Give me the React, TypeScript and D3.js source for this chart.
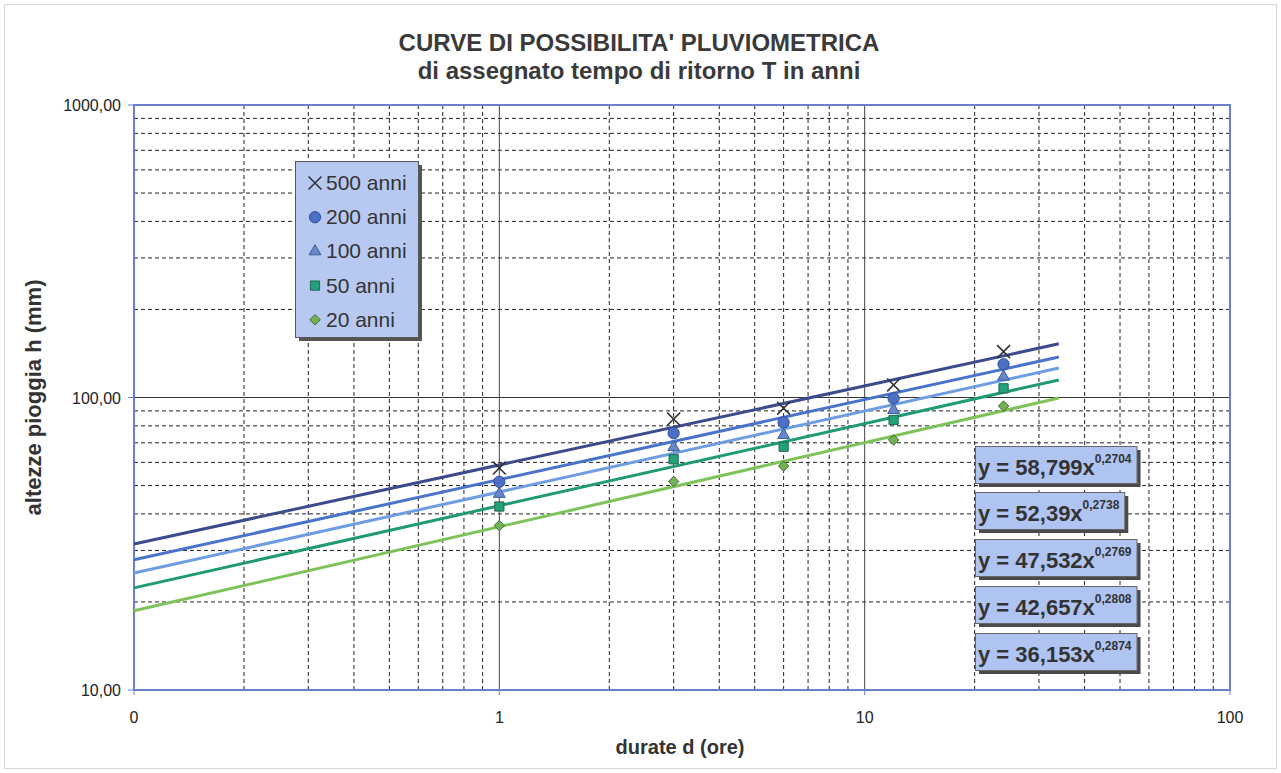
import React from 'react';
import * as d3 from 'd3';

// durate (ore) e altezze di pioggia (mm)
const durations = [1, 3, 6, 12, 24];
const seriesNames = ['500 anni', '200 anni', '100 anni', '50 anni', '20 anni'];
const h500 = [57.4, 84.4, 91.9, 110.4, 143.5];
const h200 = [51.5, 75.5, 82.2, 99.3, 129.9];
const h100 = [46.8, 67.6, 74.4, 90.6, 117.8];
const h50 = [42.4, 61.5, 67.9, 83.8, 107.5];
const h20 = [36.5, 51.6, 58.3, 71.6, 93.5];

// linee di tendenza y = a x^n
const coefA = [58.799, 52.39, 47.532, 42.657, 36.153];
const expN = [0.2704, 0.2738, 0.2769, 0.2808, 0.2874];
const coefLabels = ['58,799', '52,39', '47,532', '42,657', '36,153'];
const expLabels = ['0,2704', '0,2738', '0,2769', '0,2808', '0,2874'];
const trendRange = [0.1, 34];

const xTicks = [0.1, 1, 10, 100];
const xTickLabels = ['0', '1', '10', '100'];
const yTicks = [10, 100, 1000];
const yTickLabels = ['10,00', '100,00', '1000,00'];

const lineColors = ['#3d4b8c', '#4a74cc', '#6d9de2', '#1f9a72', '#7dc35a'];
const markerFill = ['none', '#4b70c6', '#6787c8', '#22a07a', '#72b256'];
const markerStroke = ['#333333', '#2f4e98', '#3d5c9c', '#24664f', '#3e6d2f'];

const W = 1281;
const H = 773;
const M = { left: 134, right: 1230, top: 105, bottom: 690 };
const FONT = '"Liberation Sans", Arial, sans-serif';

const x = d3.scaleLog().domain([0.1, 100]).range([M.left, M.right]);
const y = d3.scaleLog().domain([10, 1000]).range([M.bottom, M.top]);

const allSeries = [h500, h200, h100, h50, h20];

const symbolTypes = [
  (d3 as any).symbolTimes || d3.symbolCross,
  d3.symbolCircle,
  d3.symbolTriangle,
  d3.symbolSquare,
  (d3 as any).symbolDiamond2 || d3.symbolDiamond,
];
const symbolSizes = [110, 100, 60, 85, 70];

const Marker = ({ i, cx, cy }: { i: number; cx: number; cy: number }) => {
  const path = d3.symbol().type(symbolTypes[i]).size(symbolSizes[i])() || '';
  return (
    <path
      d={path}
      transform={`translate(${cx},${cy})`}
      fill={markerFill[i]}
      stroke={markerStroke[i]}
      strokeWidth={i === 0 ? 1.6 : 1}
    />
  );
};

const measure = (() => {
  let ctx: CanvasRenderingContext2D | null = null;
  return (text: string, font: string) => {
    if (!ctx) ctx = document.createElement('canvas').getContext('2d');
    if (!ctx) return text.length * 12;
    ctx.font = font;
    return ctx.measureText(text).width;
  };
})();

const App = () => {
  const minorX: number[] = [];
  const minorY: number[] = [];
  [0.1, 1, 10].forEach((dec) => {
    for (let k = 2; k <= 9; k++) minorX.push(dec * k);
  });
  [10, 100].forEach((dec) => {
    for (let k = 2; k <= 9; k++) minorY.push(dec * k);
  });

  const boxTops = [446, 492, 539, 586, 633];

  return (
    <svg
      width={W}
      height={H}
      style={{ position: 'absolute', left: 0, top: 0, background: '#fff' }}
      fontFamily={FONT}
    >
      <rect x={4.5} y={4.5} width={W - 9} height={H - 9} fill="#fff" stroke="#d6d6d6" />

      {/* titolo */}
      <text x={639} y={51} textAnchor="middle" fontSize={24} fontWeight="bold" fill="#3a3a3a">
        CURVE DI POSSIBILITA' PLUVIOMETRICA
      </text>
      <text x={639} y={79} textAnchor="middle" fontSize={24} fontWeight="bold" fill="#3a3a3a">
        di assegnato tempo di ritorno T in anni
      </text>

      {/* griglia secondaria */}
      {minorX.map((v) => (
        <line
          key={'mx' + v}
          x1={x(v)}
          x2={x(v)}
          y1={M.top}
          y2={M.bottom}
          stroke="#222"
          strokeWidth={1}
          strokeDasharray="4,3"
        />
      ))}
      {minorY.map((v) => (
        <line
          key={'my' + v}
          x1={M.left}
          x2={M.right}
          y1={y(v)}
          y2={y(v)}
          stroke="#222"
          strokeWidth={1}
          strokeDasharray="4,3"
        />
      ))}
      {/* griglia principale */}
      {[1, 10].map((v) => (
        <line key={'Mx' + v} x1={x(v)} x2={x(v)} y1={M.top} y2={M.bottom} stroke="#444" strokeWidth={1} />
      ))}
      <line x1={M.left} x2={M.right} y1={y(100)} y2={y(100)} stroke="#333" strokeWidth={1} />

      {/* tick */}
      {yTicks.map((v) => (
        <line key={'ty' + v} x1={M.left - 6} x2={M.left} y1={y(v)} y2={y(v)} stroke="#6a7fd0" />
      ))}
      {xTicks.map((v) => (
        <line key={'tx' + v} x1={x(v)} x2={x(v)} y1={M.bottom} y2={M.bottom + 5} stroke="#6a7fd0" />
      ))}

      {/* bordo area */}
      <rect
        x={M.left}
        y={M.top}
        width={M.right - M.left}
        height={M.bottom - M.top}
        fill="none"
        stroke="#6a7fd0"
        strokeWidth={2}
      />

      {/* etichette assi */}
      {yTicks.map((v, i) => (
        <text key={'ly' + v} x={121} y={y(v) + 6} textAnchor="end" fontSize={16} fill="#222">
          {yTickLabels[i]}
        </text>
      ))}
      {xTicks.map((v, i) => (
        <text key={'lx' + v} x={x(v)} y={723} textAnchor="middle" fontSize={16} fill="#222">
          {xTickLabels[i]}
        </text>
      ))}
      <text
        transform={`translate(41,${(M.top + M.bottom) / 2}) rotate(-90)`}
        textAnchor="middle"
        fontSize={22}
        fontWeight="bold"
        fill="#333"
      >
        altezze pioggia h (mm)
      </text>
      <text x={680} y={754} textAnchor="middle" fontSize={20} fontWeight="bold" fill="#333">
        durate d (ore)
      </text>

      {/* linee di tendenza */}
      {coefA.map((a, i) => {
        const line = d3
          .line<number>()
          .x((t) => x(t))
          .y((t) => y(a * Math.pow(t, expN[i])));
        return (
          <path key={'tr' + i} d={line(trendRange) || ''} fill="none" stroke={lineColors[i]} strokeWidth={3} />
        );
      })}

      {/* punti */}
      {allSeries.map((vals, i) =>
        vals.map((v, j) => <Marker key={`m${i}-${j}`} i={i} cx={x(durations[j])} cy={y(v)} />)
      )}

      {/* legenda */}
      <rect x={299} y={165} width={123} height={176} fill="#555" />
      <rect x={295.5} y={161.5} width={123} height={176} fill="#b8c9f1" stroke="#555" strokeWidth={1} />
      {seriesNames.map((name, i) => (
        <g key={'lg' + i} transform={`translate(0,${183 + i * 34.2})`}>
          <Marker i={i} cx={315} cy={0} />
          <text x={326} y={7} fontSize={21} fill="#333">
            {name}
          </text>
        </g>
      ))}

      {/* equazioni */}
      {coefLabels.map((c, i) => {
        const main = `y = ${c}x`;
        const wMain = measure(main, `bold 22px ${FONT}`);
        const wSup = measure(expLabels[i], `bold 12px ${FONT}`);
        const bw = wMain + wSup + 8;
        const top = boxTops[i];
        return (
          <g key={'eq' + i}>
            <rect x={979} y={top + 4} width={bw} height={37} fill="#4a4a4a" />
            <rect x={975.5} y={top + 0.5} width={bw} height={37} fill="#b0c4f2" stroke="#666" strokeWidth={1} />
            <text x={978} y={top + 29} fontSize={22} fontWeight="bold" fill="#333">
              {main}
              <tspan fontSize={12} dy={-12}>
                {expLabels[i]}
              </tspan>
            </text>
          </g>
        );
      })}
    </svg>
  );
};

export default App;
